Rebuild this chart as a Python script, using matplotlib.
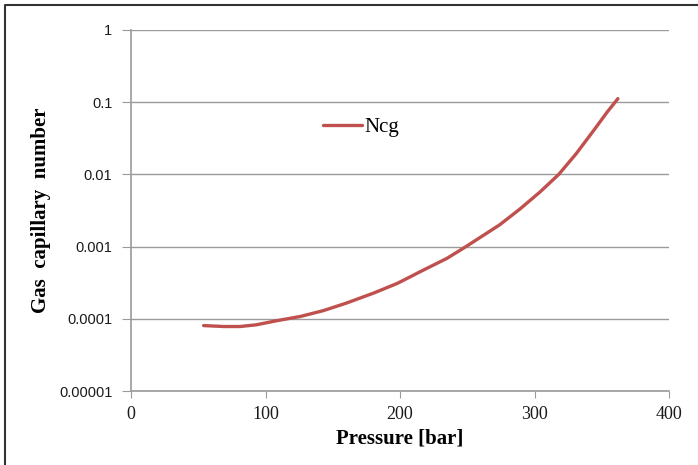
import numpy as np
import matplotlib
matplotlib.use("Agg")
import matplotlib.pyplot as plt
from matplotlib.lines import Line2D
from matplotlib.ticker import FixedLocator, FixedFormatter

# pressure [bar] and gas capillary number
pressure = [54, 69, 81, 93, 108, 126, 143, 160, 180, 198, 207, 215, 235,
            249, 274, 289, 304, 318, 331, 344, 354, 362]
ncg = [8.07e-5, 7.83e-5, 7.83e-5, 8.26e-5, 9.4e-5, 1.08e-4, 1.30e-4,
       1.65e-4, 2.26e-4, 3.1e-4, 3.77e-4, 4.5e-4, 6.9e-4, 1.0e-3, 2.0e-3,
       3.3e-3, 5.7e-3, 1.0e-2, 1.94e-2, 4.07e-2, 7.3e-2, 0.112]

y_ticks = [1e-5, 1e-4, 1e-3, 1e-2, 1e-1, 1]
y_labels = ["0.00001", "0.0001", "0.001", "0.01", "0.1", "1"]
x_ticks = [0, 100, 200, 300, 400]

fig = plt.figure(figsize=(6.98, 4.65), dpi=100)
ax = fig.add_axes([0.1877, 0.159, 0.7708, 0.7765])

ax.plot(pressure, ncg, color="#C0504D", lw=2.4, label="Ncg",
        solid_capstyle="round", solid_joinstyle="round")

ax.set_yscale("log")
ax.set_ylim(1e-5, 1)
ax.set_xlim(0, 400)
ax.yaxis.set_major_locator(FixedLocator(y_ticks))
ax.yaxis.set_major_formatter(FixedFormatter(y_labels))
ax.yaxis.set_minor_locator(FixedLocator([]))
ax.set_xticks(x_ticks)

grid_col = "#9a9a9a"
ax.grid(axis="y", color=grid_col, lw=1.0)
ax.set_axisbelow(True)
for s in ["top", "right"]:
    ax.spines[s].set_visible(False)
for s in ["left", "bottom"]:
    ax.spines[s].set_color(grid_col)
    ax.spines[s].set_linewidth(1.2)

ax.tick_params(axis="y", direction="out", length=6.5, color=grid_col,
               labelsize=10.5, labelcolor="#1a1a1a", pad=7)
ax.tick_params(axis="x", direction="out", length=5, color=grid_col,
               labelsize=13, labelcolor="#1a1a1a", pad=6)
for lab in ax.get_yticklabels():
    lab.set_family("Liberation Sans")
for lab in ax.get_xticklabels():
    lab.set_family("Liberation Serif")

ax.set_xlabel("Pressure [bar]", family="Liberation Serif", fontsize=15,
              fontweight="bold", labelpad=4)
ax.set_ylabel("Gas  capillary  number", family="Liberation Serif",
              fontsize=15, fontweight="bold", labelpad=6)

leg = ax.legend(loc="center", bbox_to_anchor=(0.427, 0.731), frameon=False,
                handlelength=1.9, handletextpad=0.1,
                prop={"family": "Liberation Serif", "size": 15})

# border on the left and top edges of the figure
fig.lines.append(Line2D([0.007, 0.007, 1.0], [0.0, 0.99, 0.99],
                        transform=fig.transFigure, color="#333333", lw=1.5))

fig.savefig("out.png", dpi=100)
